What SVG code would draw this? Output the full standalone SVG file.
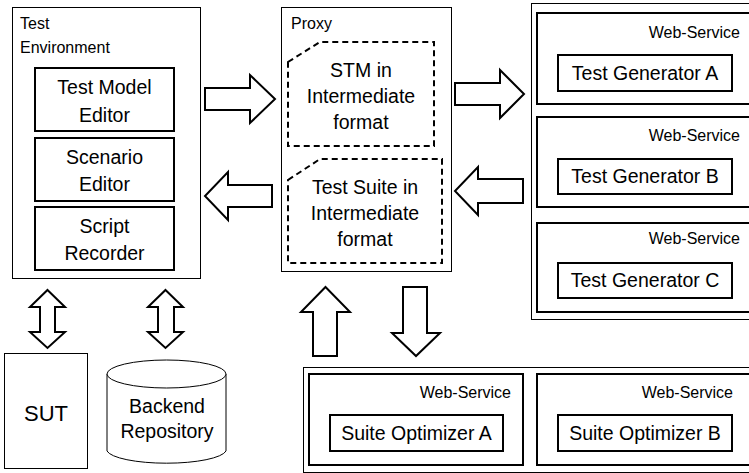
<svg xmlns="http://www.w3.org/2000/svg" width="749" height="473" viewBox="0 0 749 473">
<style>
text{font-family:"Liberation Sans",Arial,sans-serif;fill:#000}
.thin{fill:#fff;stroke:#000;stroke-width:1}
.thick{fill:#fff;stroke:#000;stroke-width:2}
.dash{fill:#fff;stroke:#000;stroke-width:2;stroke-dasharray:6 4}
.arr{fill:#fff;stroke:#000;stroke-width:2;stroke-linejoin:miter}
.lbl{font-size:19.5px;text-anchor:middle}
.sm{font-size:16px}
.ws{font-size:16px;text-anchor:end}
</style>
<rect width="749" height="473" fill="#fff"/>
<g id="test-environment">
<rect class="thin" x="12.5" y="7.5" width="188" height="271"/>
<text class="sm" x="20" y="29">Test</text>
<text class="sm" x="20" y="53">Environment</text>
</g>
<g id="test-model-editor">
<rect class="thick" x="35" y="68" width="139" height="63"/>
<text class="lbl" x="104.5" y="94">Test Model</text>
<text class="lbl" x="104.5" y="122">Editor</text>
</g>
<g id="scenario-editor">
<rect class="thick" x="35" y="138" width="139" height="63"/>
<text class="lbl" x="104.5" y="164">Scenario</text>
<text class="lbl" x="104.5" y="191">Editor</text>
</g>
<g id="script-recorder">
<rect class="thick" x="35" y="207" width="139" height="63"/>
<text class="lbl" x="104.5" y="233">Script</text>
<text class="lbl" x="104.5" y="260">Recorder</text>
</g>
<g id="proxy">
<rect class="thin" x="281.5" y="7.5" width="170" height="264"/>
<text class="sm" x="291" y="29">Proxy</text>
</g>
<g id="stm">
<path class="dash" d="M288 62 L320 42 L434 42 L434 146 L288 146 Z"/>
<text class="lbl" x="361" y="77">STM in</text>
<text class="lbl" x="361" y="103">Intermediate</text>
<text class="lbl" x="361" y="129">format</text>
</g>
<g id="test-suite">
<path class="dash" d="M288 180 L320 159 L442 159 L442 263 L288 263 Z"/>
<text class="lbl" x="365" y="194">Test Suite in</text>
<text class="lbl" x="365" y="220">Intermediate</text>
<text class="lbl" x="365" y="246">format</text>
</g>
<g id="generators">
<rect class="thin" x="531.5" y="3.5" width="230" height="316"/>
</g>
<g id="ws-a">
<rect class="thick" x="537" y="13" width="220" height="91"/>
<text class="ws" x="740" y="38">Web-Service</text>
<rect class="thick" x="558" y="55" width="174" height="36"/>
<text class="lbl" x="645" y="80">Test Generator A</text>
</g>
<g id="ws-b">
<rect class="thick" x="537" y="117" width="220" height="90"/>
<text class="ws" x="740" y="141">Web-Service</text>
<rect class="thick" x="558" y="159" width="174" height="35"/>
<text class="lbl" x="645" y="183">Test Generator B</text>
</g>
<g id="ws-c">
<rect class="thick" x="537" y="223" width="220" height="89"/>
<text class="ws" x="740" y="244">Web-Service</text>
<rect class="thick" x="558" y="263" width="174" height="35"/>
<text class="lbl" x="645" y="287">Test Generator C</text>
</g>
<g id="sut">
<rect class="thin" x="4.5" y="353.5" width="83" height="115"/>
<text x="46" y="421" font-size="22" text-anchor="middle">SUT</text>
</g>
<g id="backend-repository">
<path class="thin" d="M107 374 L107 451 A60 14 0 0 0 226 451 L226 374"/>
<ellipse class="thin" cx="166.5" cy="374" rx="59.5" ry="14"/>
<text class="lbl" x="167" y="413">Backend</text>
<text class="lbl" x="167" y="438">Repository</text>
</g>
<g id="optimizers">
<rect class="thin" x="303.5" y="367.5" width="460" height="105"/>
</g>
<g id="ws-opt-a">
<rect class="thick" x="309" y="374" width="214" height="91"/>
<text class="ws" x="511" y="398">Web-Service</text>
<rect class="thick" x="330" y="415" width="173" height="36"/>
<text class="lbl" x="416.5" y="440">Suite Optimizer A</text>
</g>
<g id="ws-opt-b">
<rect class="thick" x="537" y="374" width="220" height="91"/>
<text class="ws" x="733" y="398">Web-Service</text>
<rect class="thick" x="558" y="415" width="174" height="36"/>
<text class="lbl" x="645" y="440">Suite Optimizer B</text>
</g>
<g id="connectors">
<polygon class="arr" points="205,88 250,88 250,75 275,99 250,123 250,110 205,110"/>
<polygon class="arr" points="272,185 228,185 228,172 205,196 228,220 228,207 272,207"/>
<polygon class="arr" points="455,83 500,83 500,70 524,94 500,118 500,105 455,105"/>
<polygon class="arr" points="523,179 478,179 478,167 455,191 478,215 478,203 523,203"/>
<polygon class="arr" points="47.5,290 65,307 55,307 55,332 65,332 47.5,348 30,332 40,332 40,307 30,307"/>
<polygon class="arr" points="165.5,290 183,307 174,307 174,332 183,332 165.5,348 148,332 158,332 158,307 148,307"/>
<polygon class="arr" points="325.5,287 350,312 337,312 337,356 313,356 313,312 301,312"/>
<polygon class="arr" points="403,287 427,287 427,333 440,333 416,356 392,333 403,333"/>
</g>
</svg>
